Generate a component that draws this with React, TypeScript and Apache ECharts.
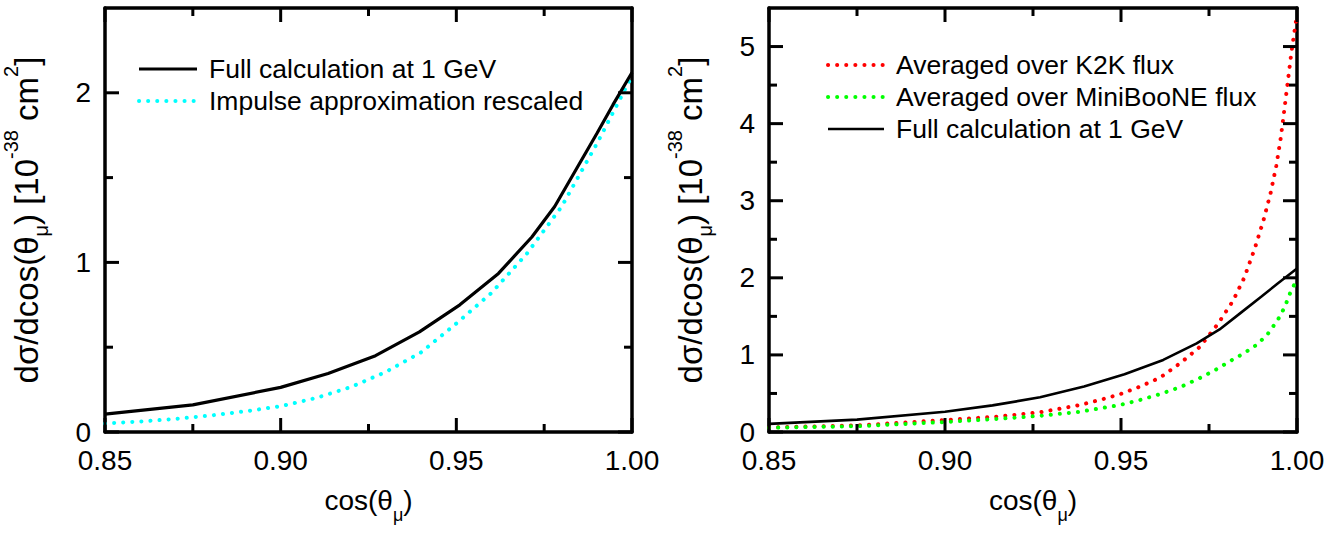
import React, { useEffect, useRef } from 'react';
import * as echarts from 'echarts';

const FONT = "'Liberation Sans', Arial, Helvetica, sans-serif";

// ---- axis ranges ----
const X_MIN = 0.85;
const X_MAX = 1.0;
const X_STEP = 0.05;
const Y_STEP = 1;
const Y_MAX_LEFT = 2.5;
const Y_MAX_RIGHT = 5.5;

// ---- tick positions ----
const X_MAJOR_TICKS = [0.85, 0.9, 0.95, 1.0];
const X_MINOR_TICKS = [0.875, 0.925, 0.975];
const Y_LEFT_MAJOR_TICKS = [0, 1, 2];
const Y_LEFT_MINOR_TICKS = [0.5, 1.5];
const Y_RIGHT_MAJOR_TICKS = [0, 1, 2, 3, 4, 5];
const Y_RIGHT_MINOR_TICKS = [0.5, 1.5, 2.5, 3.5, 4.5];

// ---- series names ----
const NAME_FULL = 'Full calculation at 1 GeV';
const NAME_IMP = 'Impulse approximation rescaled';
const NAME_K2K = 'Averaged over K2K flux';
const NAME_MB = 'Averaged over MiniBooNE flux';

// ---- data: full calculation at 1 GeV ----
const fullX = [0.85, 0.875, 0.9, 0.9135, 0.927, 0.9395, 0.951, 0.962, 0.9715, 0.978, 0.984, 0.99, 0.9946, 1.0];
const fullY = [0.105, 0.16, 0.263, 0.345, 0.45, 0.59, 0.75, 0.935, 1.15, 1.33, 1.545, 1.76, 1.93, 2.12];

// ---- data: impulse approximation rescaled ----
const impX = [0.85, 0.86, 0.87, 0.88, 0.89, 0.9, 0.91, 0.92, 0.93, 0.94, 0.95, 0.96, 0.97, 0.98, 0.99, 1.0];
const impY = [0.05, 0.062, 0.077, 0.097, 0.122, 0.152, 0.2, 0.265, 0.355, 0.47, 0.64, 0.82, 1.05, 1.33, 1.7, 2.1];

// ---- data: averaged over K2K flux ----
const k2kX = [0.85, 0.875, 0.9, 0.915, 0.927, 0.9327, 0.9384, 0.944, 0.9497, 0.9554, 0.9611, 0.9668, 0.9723, 0.9775, 0.9818, 0.985, 0.988, 0.9905, 0.9925, 0.9941, 0.9954, 0.9964, 0.9974, 0.9984, 1.0];
const k2kY = [0.06, 0.085, 0.155, 0.2, 0.256, 0.303, 0.351, 0.416, 0.49, 0.589, 0.705, 0.892, 1.1, 1.4, 1.7, 2.0, 2.38, 2.75, 3.1, 3.45, 3.82, 4.18, 4.55, 4.92, 5.42];

// ---- data: averaged over MiniBooNE flux ----
const mbX = [0.85, 0.875, 0.9, 0.915, 0.927, 0.938, 0.9497, 0.955, 0.961, 0.9667, 0.9724, 0.977, 0.981, 0.9849, 0.9885, 0.9915, 0.9945, 0.9965, 0.9982, 1.0];
const mbY = [0.055, 0.075, 0.13, 0.17, 0.21, 0.26, 0.35, 0.41, 0.49, 0.58, 0.7, 0.81, 0.92, 1.02, 1.13, 1.26, 1.45, 1.62, 1.82, 1.98];

const pairs = (xs: number[], ys: number[]) => xs.map((x, i) => [x, ys[i]]);

const Y_NAME = '{n|dσ/dcos(θ}{sub|μ}{n|) [10}{sup|-38}{n| cm}{sup|2}{n|]}';
const X_NAME = '{n|cos(θ}{sub|μ}{n|)}';

const DOT = [0.1, 9];
const AXIS_W = 3.5;
const TICK_W = 3;
const MAJOR_LEN = 14;
const MINOR_LEN = 8;

const GRIDS = [
  { left: 103, right: 706, top: 8, bottom: 106 },
  { left: 769, right: 41, top: 8, bottom: 106 },
];

const PANELS = [
  { axisIndex: 0, yMax: Y_MAX_LEFT, yMajor: Y_LEFT_MAJOR_TICKS, yMinor: Y_LEFT_MINOR_TICKS },
  { axisIndex: 2, yMax: Y_MAX_RIGHT, yMajor: Y_RIGHT_MAJOR_TICKS, yMinor: Y_RIGHT_MINOR_TICKS },
];

function buildOption() {
  const black = '#000';
  const xAxes: any[] = [];
  const yAxes: any[] = [];

  GRIDS.forEach((_g, gi) => {
    const yMax = PANELS[gi].yMax;
    const xBase = { type: 'value', gridIndex: gi, min: X_MIN, max: X_MAX, interval: X_STEP, splitLine: { show: false }, axisTick: { show: false } };
    const yBase = { type: 'value', gridIndex: gi, min: 0, max: yMax, interval: Y_STEP, splitLine: { show: false }, axisTick: { show: false } };

    xAxes.push({
      ...xBase,
      position: 'bottom',
      axisLine: { show: true, onZero: false, lineStyle: { color: black, width: AXIS_W } },
      axisLabel: {
        show: true, fontSize: 28, fontFamily: FONT, color: black, margin: 14,
        formatter: (v: number) => v.toFixed(2),
      },
      name: X_NAME,
      nameLocation: 'middle',
      nameGap: 44,
      nameTextStyle: {
        fontFamily: FONT, color: black,
        rich: {
          n: { fontSize: 28, lineHeight: 48, fontFamily: FONT, color: black },
          sub: { fontSize: 18, lineHeight: 18, verticalAlign: 'bottom', fontFamily: FONT, color: black },
        },
      },
    });
    xAxes.push({
      ...xBase, position: 'top',
      axisLine: { show: true, onZero: false, lineStyle: { color: black, width: AXIS_W } },
      axisLabel: { show: false },
    });

    yAxes.push({
      ...yBase,
      position: 'left',
      axisLine: { show: true, onZero: false, lineStyle: { color: black, width: AXIS_W } },
      axisLabel: {
        show: true, fontSize: 28, fontFamily: FONT, color: black, margin: 14,
        formatter: (v: number) => (v % 1 === 0 ? String(v) : ''),
      },
      name: Y_NAME,
      nameLocation: 'middle',
      nameRotate: 90,
      nameGap: 54,
      nameTextStyle: {
        fontFamily: FONT, color: black,
        rich: {
          n: { fontSize: 33, lineHeight: 50, fontFamily: FONT, color: black },
          sub: { fontSize: 20, lineHeight: 20, verticalAlign: 'bottom', fontFamily: FONT, color: black },
          sup: { fontSize: 20, lineHeight: 20, verticalAlign: 'top', fontFamily: FONT, color: black },
        },
      },
    });
    yAxes.push({
      ...yBase, position: 'right',
      axisLine: { show: true, onZero: false, lineStyle: { color: black, width: AXIS_W } },
      axisLabel: { show: false },
    });
  });

  const legendText = {
    fontSize: 26.5,
    lineHeight: 32,
    fontFamily: FONT,
    color: black,
    padding: [0, 0, 0, 7],
  };

  const P0 = PANELS[0].axisIndex;
  const P1 = PANELS[1].axisIndex;

  return {
    animation: false,
    backgroundColor: '#fff',
    grid: GRIDS,
    xAxis: xAxes,
    yAxis: yAxes,
    legend: [
      {
        orient: 'vertical', left: 137, top: 53, padding: 0, itemGap: 0,
        itemWidth: 58, itemHeight: 14, selectedMode: false,
        itemStyle: { opacity: 0 }, textStyle: legendText,
        data: [
          { name: NAME_FULL, lineStyle: { color: black, width: 3.2, type: 'solid' } },
          { name: NAME_IMP, lineStyle: { color: '#00ffff', width: 4, type: DOT, cap: 'round' } },
        ],
      },
      {
        orient: 'vertical', left: 826, top: 49, padding: 0, itemGap: 0,
        itemWidth: 56, itemHeight: 14, selectedMode: false,
        itemStyle: { opacity: 0 }, textStyle: legendText,
        data: [
          { name: NAME_K2K, lineStyle: { color: '#ff0000', width: 4, type: DOT, cap: 'round' } },
          { name: NAME_MB, lineStyle: { color: '#00ff00', width: 4, type: DOT, cap: 'round' } },
          { name: NAME_FULL, lineStyle: { color: black, width: 2.6, type: 'solid' } },
        ],
      },
    ],
    series: [
      { name: NAME_IMP, type: 'line', xAxisIndex: P0, yAxisIndex: P0, symbol: 'none', data: pairs(impX, impY),
        lineStyle: { color: '#00ffff', width: 4, type: DOT, cap: 'round' }, itemStyle: { color: '#00ffff' } },
      { name: NAME_FULL, type: 'line', xAxisIndex: P0, yAxisIndex: P0, symbol: 'none', data: pairs(fullX, fullY),
        lineStyle: { color: black, width: 3.2, type: 'solid' }, itemStyle: { color: black } },
      { name: NAME_K2K, type: 'line', xAxisIndex: P1, yAxisIndex: P1, symbol: 'none', data: pairs(k2kX, k2kY),
        lineStyle: { color: '#ff0000', width: 4, type: DOT, cap: 'round' }, itemStyle: { color: '#ff0000' } },
      { name: NAME_MB, type: 'line', xAxisIndex: P1, yAxisIndex: P1, symbol: 'none', data: pairs(mbX, mbY),
        lineStyle: { color: '#00ff00', width: 4, type: DOT, cap: 'round' }, itemStyle: { color: '#00ff00' } },
      { name: NAME_FULL, type: 'line', xAxisIndex: P1, yAxisIndex: P1, symbol: 'none', data: pairs(fullX, fullY),
        lineStyle: { color: black, width: 2.6, type: 'solid' }, itemStyle: { color: black } },
    ],
  };
}

// Tick marks placed through the chart's own axis scales (convertToPixel)
function buildTickGraphics(chart: any) {
  const els: any[] = [];
  const h = TICK_W / 2;
  PANELS.forEach((p) => {
    const finder = { xAxisIndex: p.axisIndex, yAxisIndex: p.axisIndex };
    const px = (x: number, y: number) => chart.convertToPixel(finder, [x, y]) as number[];
    const addX = (v: number, len: number) => {
      const b = px(v, 0);
      const t = px(v, p.yMax);
      els.push({ type: 'rect', z: 1000, silent: true, shape: { x: b[0] - h, y: b[1] - len, width: TICK_W, height: len }, style: { fill: '#000' } });
      els.push({ type: 'rect', z: 1000, silent: true, shape: { x: t[0] - h, y: t[1], width: TICK_W, height: len }, style: { fill: '#000' } });
    };
    const addY = (v: number, len: number) => {
      const l = px(X_MIN, v);
      const r = px(X_MAX, v);
      els.push({ type: 'rect', z: 1000, silent: true, shape: { x: l[0], y: l[1] - h, width: len, height: TICK_W }, style: { fill: '#000' } });
      els.push({ type: 'rect', z: 1000, silent: true, shape: { x: r[0] - len, y: r[1] - h, width: len, height: TICK_W }, style: { fill: '#000' } });
    };
    X_MAJOR_TICKS.forEach((v) => addX(v, MAJOR_LEN));
    X_MINOR_TICKS.forEach((v) => addX(v, MINOR_LEN));
    p.yMajor.forEach((v) => addY(v, MAJOR_LEN));
    p.yMinor.forEach((v) => addY(v, MINOR_LEN));
  });
  return els;
}

export default function App() {
  const ref = useRef<HTMLDivElement>(null);
  useEffect(() => {
    if (!ref.current) return;
    const chart = echarts.init(ref.current, undefined, { renderer: 'svg' });
    chart.setOption(buildOption() as any);
    chart.setOption({ graphic: { elements: buildTickGraphics(chart) } } as any);
    return () => chart.dispose();
  }, []);
  return (
    <div
      ref={ref}
      style={{ position: 'fixed', left: 0, top: 0, width: 1338, height: 538, background: '#fff' }}
    />
  );
}
